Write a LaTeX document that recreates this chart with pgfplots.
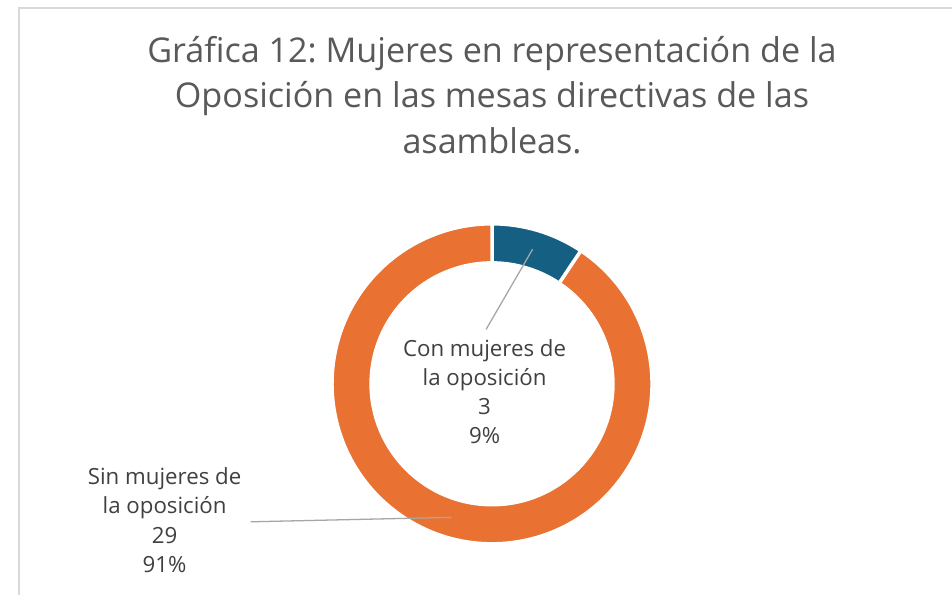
\documentclass[border=0pt]{standalone}
\usepackage{pgfplots}
\pgfplotsset{compat=1.18}
\usepackage{pgfplotstable}
\usepackage{fontspec}
\setmainfont{Open Sans}
\frenchspacing
\definecolor{cOrange}{HTML}{E97132}
\definecolor{cBlue}{HTML}{156082}
\definecolor{cTitle}{HTML}{595959}
\definecolor{cLabel}{HTML}{404040}
\definecolor{cLead}{HTML}{A6A6A6}
\definecolor{cBorder}{HTML}{D9D9D9}
\pgfplotstableread{
label value
Con 3
Sin 29
}\datatable
\begin{document}
\pgfplotstablegetelem{0}{value}\of\datatable \edef\vCon{\pgfplotsretval}
\pgfplotstablegetelem{1}{value}\of\datatable \edef\vSin{\pgfplotsretval}
\pgfmathsetmacro\aCon{360*\vCon/(\vCon+\vSin)}
\pgfmathsetmacro\eCon{90-\aCon}
\begin{tikzpicture}
\begin{axis}[hide axis, scale only axis, width=952pt, height=601pt,
  xmin=0, xmax=952, ymin=0, ymax=601, y dir=reverse, clip=false]
\fill[white] (axis cs:0,0) rectangle (axis cs:952,601);
\coordinate (BL) at (axis cs:0,601);
\coordinate (TR) at (axis cs:952,0);
\draw[cBorder, line width=1.5pt] (axis cs:9,601) -- (axis cs:9,8) -- (axis cs:952,8);
% donut slices (angles from the data)
\filldraw[fill=cBlue, draw=white, line width=3.5pt]
  (axis cs:487,388) ++(90:161.75pt) arc[start angle=90, end angle=\eCon, radius=161.75pt]
  -- ++(\eCon:-39.5pt) arc[start angle=\eCon, end angle=90, radius=122.25pt] -- cycle;
\filldraw[fill=cOrange, draw=white, line width=3.5pt]
  (axis cs:487,388) ++(\eCon:161.75pt) arc[start angle=\eCon, end angle=-270, radius=161.75pt]
  -- ++(-270:-39.5pt) arc[start angle=-270, end angle=\eCon, radius=122.25pt] -- cycle;
% leader lines
\draw[cLead, line width=1.3pt] (axis cs:481,333) -- (axis cs:528,252);
\draw[cLead, line width=1.3pt] (axis cs:243,527.5) -- (axis cs:446,523);
% title
\begin{scope}[every node/.style={anchor=base, inner sep=0pt, text=cTitle, font=\fontsize{34.5}{40}\selectfont}]
\node at (axis cs:487,63) {Gráfica 12: Mujeres en representación de la};
\node at (axis cs:487,109) {Oposición en las mesas directivas de las};
\node at (axis cs:487,155) {asambleas.};
\end{scope}
% data labels
\begin{scope}[every node/.style={anchor=base, inner sep=0pt, text=cLabel, font=\fontsize{22.5}{26}\selectfont}]
\node at (axis cs:479.5,360) {Con mujeres de};
\node at (axis cs:479.5,389.5) {la oposición};
\node at (axis cs:479.5,419) {\vCon};
\node at (axis cs:479.5,448.5) {9\%};
\node at (axis cs:156,490) {Sin mujeres de};
\node at (axis cs:156,519.5) {la oposición};
\node at (axis cs:156,549) {\vSin};
\node at (axis cs:156,578.5) {91\%};
\end{scope}
\end{axis}
\pgfresetboundingbox
\path[use as bounding box] (BL) rectangle (TR);
\end{tikzpicture}
\end{document}
